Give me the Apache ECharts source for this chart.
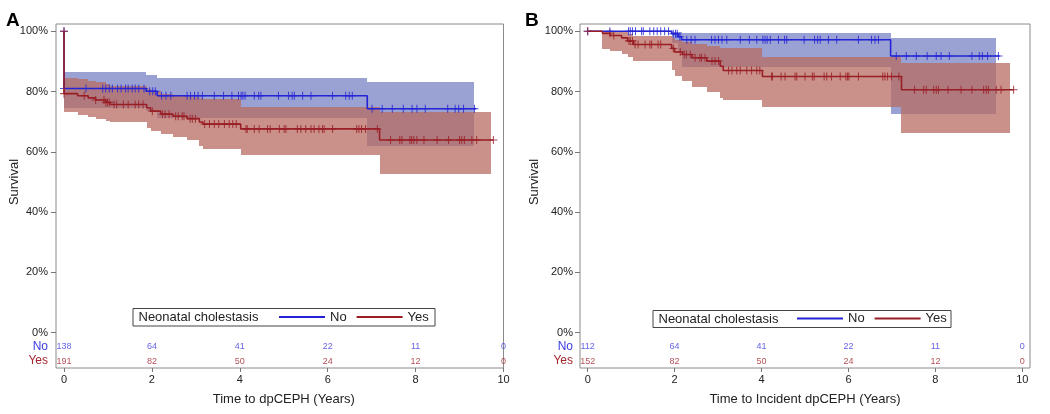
<!DOCTYPE html>
<html>
<head>
<meta charset="utf-8">
<script src="https://cdn.jsdelivr.net/npm/echarts@6/dist/echarts.min.js"></script>
<style>
	html,body{margin:0;padding:0;background:#fff;}
	#main{width:1050px;height:414px;}
</style>
</head>
<body>
<div id="main"></div>
<script>
	// ---- panel A : time to dpCEPH ----
	const aNoT  = [0, 0, 1.87, 2.12, 6.90];
	const aNoS  = [100, 81.0, 80.1, 78.6, 74.3];
	const aNoLo = [100, 74.5, 73.5, 71.3, 62.1];
	const aNoHi = [100, 86.5, 85.4, 84.6, 83.0];
	const aNoEnd = 9.38, aNoBandEnd = 9.32;
	const aNoCens = [0, 0.50, 0.88, 0.95, 1.03, 1.10, 1.22, 1.30, 1.40, 1.46, 1.55, 1.62, 1.70, 1.82, 1.95, 2.02, 2.08,
		2.22, 2.32, 2.43, 2.80, 2.88, 2.97, 3.05, 3.15, 3.42, 3.63, 3.82, 3.97, 4.03, 4.07, 4.12, 4.33, 4.43, 4.48,
		4.88, 5.11, 5.19, 5.24, 5.43, 5.62, 6.11, 6.41, 6.49, 6.56, 7.01, 7.24, 7.47, 7.72, 7.92, 8.03, 8.22, 8.73,
		8.90, 8.98, 9.09, 9.34];

	const aYesT  = [0, 0, 0.31, 0.55, 0.72, 0.95, 1.05, 1.88, 1.97, 2.20, 2.48, 2.80, 3.08, 3.16, 4.02, 7.18];
	const aYesS  = [100, 79.3, 78.6, 77.9, 77.2, 76.4, 75.7, 74.6, 73.5, 72.5, 71.8, 71.0, 69.9, 69.2, 67.6, 63.9];
	const aYesLo = [100, 73.2, 72.2, 71.5, 70.9, 70.3, 69.8, 68.0, 67.0, 65.8, 64.9, 63.8, 62.0, 61.0, 58.9, 52.8];
	const aYesHi = [100, 84.5, 84.0, 83.5, 83.0, 82.5, 81.9, 81.0, 80.2, 79.2, 78.7, 78.3, 78.0, 77.6, 75.0, 73.2];
	const aYesEnd = 9.77, aYesBandEnd = 9.72;
	const aYesCens = [0, 0.46, 0.72, 0.91, 0.95, 0.99, 1.03, 1.14, 1.20, 1.35, 1.46, 1.62, 1.70, 1.80, 2.01, 2.24,
		2.30, 2.39, 2.54, 2.60, 2.69, 2.73, 2.87, 2.92, 2.99, 3.20, 3.31, 3.42, 3.52, 3.65, 3.76, 3.84, 3.92, 4.14,
		4.17, 4.33, 4.44, 4.63, 4.69, 4.90, 5.01, 5.05, 5.31, 5.39, 5.50, 5.62, 5.69, 5.80, 5.88, 5.92, 6.11, 6.66,
		6.71, 6.77, 6.86, 7.13, 7.43, 7.64, 7.69, 7.87, 7.91, 7.96, 8.03, 8.19, 8.49, 8.75, 9.00, 9.05, 9.11, 9.28,
		9.39, 9.77];

	// ---- panel B : time to incident dpCEPH ----
	const bNoT  = [0, 1.93, 2.08, 2.16, 6.97];
	const bNoS  = [100, 99.2, 98.2, 97.2, 91.8];
	const bNoLo = [100, 96.0, 93.0, 88.3, 72.4];
	const bNoHi = [100, 99.9, 99.6, 99.4, 97.8];
	const bNoEnd = 9.48, bNoBandEnd = 9.40;
	const bNoCens = [0.51, 0.94, 0.98, 1.03, 1.10, 1.24, 1.28, 1.43, 1.52, 1.60, 1.68, 1.77, 1.86, 1.97, 2.02, 2.06,
		2.12, 2.28, 2.38, 2.47, 2.85, 2.93, 3.01, 3.09, 3.20, 3.51, 3.72, 3.89, 4.03, 4.08, 4.13, 4.20, 4.39, 4.53,
		4.58, 4.98, 5.22, 5.29, 5.35, 5.54, 5.73, 6.23, 6.53, 6.61, 6.69, 7.10, 7.33, 7.56, 7.81, 8.02, 8.13, 8.32,
		8.84, 9.01, 9.08, 9.20, 9.45];

	const bYesT  = [0, 0.34, 0.52, 0.78, 0.92, 1.05, 1.93, 2.00, 2.18, 2.40, 2.74, 3.05, 3.12, 4.02, 7.22];
	const bYesS  = [100, 99.3, 98.6, 97.8, 96.8, 95.6, 94.3, 93.1, 92.3, 91.2, 90.1, 88.4, 87.0, 85.0, 80.6];
	const bYesLo = [100, 94.1, 93.3, 92.5, 91.3, 90.0, 87.2, 85.0, 83.6, 81.5, 79.7, 77.8, 77.2, 75.0, 66.2];
	const bYesHi = [100, 100, 99.9, 99.6, 99.2, 98.5, 97.8, 97.0, 96.4, 95.8, 95.2, 94.6, 94.4, 91.4, 89.4];
	const bYesEnd = 9.80, bYesBandEnd = 9.72;
	const bYesCens = [0.51, 0.60, 0.95, 0.98, 1.03, 1.09, 1.16, 1.32, 1.43, 1.47, 1.62, 1.68, 1.97, 2.13, 2.22, 2.27,
		2.36, 2.47, 2.58, 2.62, 2.70, 2.86, 2.93, 3.01, 3.24, 3.32, 3.43, 3.51, 3.66, 3.77, 3.89, 3.96, 4.23, 4.25,
		4.45, 4.54, 4.77, 4.81, 5.00, 5.17, 5.21, 5.44, 5.50, 5.61, 5.81, 5.94, 5.98, 6.01, 6.23, 6.79, 6.84, 6.90,
		6.99, 7.16, 7.52, 7.73, 7.79, 7.96, 8.02, 8.07, 8.29, 8.59, 8.84, 9.11, 9.17, 9.22, 9.40, 9.51, 9.80];

	// number at risk
	const riskTimes = [0, 2, 4, 6, 8, 10];
	const aRiskNo  = [138, 64, 41, 22, 11, 0];
	const aRiskYes = [191, 82, 50, 24, 12, 0];
	const bRiskNo  = [112, 64, 41, 22, 11, 0];
	const bRiskYes = [152, 82, 50, 24, 12, 0];

	const xTicks = [0, 2, 4, 6, 8, 10];
	const yTicks = [0, 20, 40, 60, 80, 100];

	const BLUE = '#2424d6', RED = '#9a1e26';
	const BLUE_TXT = '#3b3be0', RED_TXT = '#a3262e';
	const BLUE_BAND = 'rgba(120,130,196,0.75)', RED_BAND = 'rgba(183,108,97,0.75)';
	const ROW_NO = -4.7, ROW_YES = -9.4;
	const FONT = '"Liberation Sans", Arial, sans-serif';
	const PLUS = 'path://M4.35,0h1.3v4.35h4.35v1.3h-4.35v4.35h-1.3v-4.35h-4.35v-1.3h4.35z';

	function survAt(ts, ss, t){
		let v = ss[0];
		for (let i = 0; i < ts.length; i++){ if (ts[i] <= t) v = ss[i]; }
		return v;
	}
	function stepData(ts, ss, end){
		const d = ts.map((t, i) => [t, ss[i]]);
		d.push([end, ss[ss.length - 1]]);
		return d;
	}
	function bandData(ts, lo, hi, end){
		const d = [];
		for (let i = 0; i < ts.length; i++){
			const t1 = i < ts.length - 1 ? ts[i + 1] : end;
			if (hi[i] > lo[i] && t1 > ts[i]) d.push([ts[i], t1, lo[i], hi[i]]);
		}
		return d;
	}
	function censData(ts, ss, cs){
		return [[ts[0], ss[0]]].concat(cs.map(t => [t, survAt(ts, ss, t)]));
	}
	function bandRender(color){
		return function(params, api){
			const a = api.coord([api.value(0), api.value(3)]);
			const b = api.coord([api.value(1), api.value(2)]);
			const x0 = Math.round(a[0]), x1 = Math.round(b[0]);
			const y0 = Math.round(a[1]), y1 = Math.round(b[1]);
			return { type:'rect', shape:{ x:x0, y:y0, width:x1 - x0, height:y1 - y0 }, style:{ fill:color } };
		};
	}

	function panelSeries(idx, g){
		const base = { xAxisIndex:idx, yAxisIndex:idx, silent:true };
		return [
			Object.assign({ type:'custom', name:'No band', renderItem:bandRender(BLUE_BAND), encode:{ x:[0,1], y:[2,3] },
				data:bandData(g.noT, g.noLo, g.noHi, g.noBandEnd) }, base),
			Object.assign({ type:'custom', name:'Yes band', renderItem:bandRender(RED_BAND), encode:{ x:[0,1], y:[2,3] },
				data:bandData(g.yesT, g.yesLo, g.yesHi, g.yesBandEnd) }, base),
			Object.assign({ type:'line', name:'No', step:'end', showSymbol:false, symbol:'none',
				itemStyle:{ color:BLUE }, lineStyle:{ color:BLUE, width:1.6 },
				data:stepData(g.noT, g.noS, g.noEnd) }, base),
			Object.assign({ type:'line', name:'Yes', step:'end', showSymbol:false, symbol:'none',
				itemStyle:{ color:RED }, lineStyle:{ color:RED, width:1.6 },
				data:stepData(g.yesT, g.yesS, g.yesEnd) }, base),
			Object.assign({ type:'scatter', name:'No censored', symbol:PLUS, symbolSize:8,
				itemStyle:{ color:BLUE }, data:censData(g.noT, g.noS, g.noCens) }, base),
			Object.assign({ type:'scatter', name:'Yes censored', symbol:PLUS, symbolSize:8,
				itemStyle:{ color:RED }, data:censData(g.yesT, g.yesS, g.yesCens) }, base),
			Object.assign({ type:'scatter', name:'No at risk', symbolSize:0,
				label:{ show:true, position:'inside', formatter:p => p.value[2], color:BLUE_TXT, fontSize:9, fontFamily:FONT },
				data:riskTimes.map((t, i) => [t, ROW_NO, g.riskNo[i]]) }, base),
			Object.assign({ type:'scatter', name:'Yes at risk', symbolSize:0,
				label:{ show:true, position:'inside', formatter:p => p.value[2], color:RED_TXT, fontSize:9, fontFamily:FONT },
				data:riskTimes.map((t, i) => [t, ROW_YES, g.riskYes[i]]) }, base)
		];
	}

	function xAxis(idx, min, max, name, pad){
		return {
			type:'value', gridIndex:idx, min:min, max:max, position:'bottom',
			axisLine:{ show:false, onZero:false },
			axisTick:{ show:true, length:4, customValues:xTicks, lineStyle:{ color:'#777' } },
			axisLabel:{ customValues:xTicks, margin:6, fontSize:11, color:'#222', fontFamily:FONT },
			splitLine:{ show:false },
			name:name, nameLocation:'middle', nameGap:25,
			nameTextStyle:{ fontSize:13, color:'#222', fontFamily:FONT, padding:pad }
		};
	}
	function yAxis(idx, margin){
		return {
			type:'value', gridIndex:idx, min:-11.7, max:102.4, position:'left',
			axisLine:{ show:false, onZero:false },
			axisTick:{ show:true, length:5, customValues:yTicks, lineStyle:{ color:'#777' } },
			axisLabel:{
				customValues:[ROW_YES, ROW_NO].concat(yTicks), margin:margin, fontSize:11, color:'#222', fontFamily:FONT,
				formatter:v => v < -7 ? '{y|Yes}' : (v < 0 ? '{n|No}' : v + '%'),
				rich:{ n:{ color:BLUE_TXT, fontSize:12, fontFamily:FONT }, y:{ color:RED_TXT, fontSize:12, fontFamily:FONT } }
			},
			splitLine:{ show:false }
		};
	}
	function legendBox(x, y, w, h){
		return [
			{ type:'rect', z:5, shape:{ x:x, y:y, width:w, height:h }, style:{ fill:'#fff', stroke:'#444', lineWidth:1 } },
			{ type:'text', z:6, x:x + 5.5, y:y + h / 2, style:{ text:'Neonatal cholestasis', fontSize:13, fontFamily:FONT,
				fill:'#222', verticalAlign:'middle' } }
		];
	}

	const chart = echarts.init(document.getElementById('main'), null, { renderer:'canvas' });
	chart.setOption({
		animation:false,
		textStyle:{ fontFamily:FONT },
		grid:[
			{ left:56, top:24, width:447.5, height:344, show:true, borderColor:'#8a8a8a', borderWidth:1,
				backgroundColor:'transparent', outerBoundsMode:'none', containLabel:false },
			{ left:580, top:24, width:450, height:344, show:true, borderColor:'#8a8a8a', borderWidth:1,
				backgroundColor:'transparent', outerBoundsMode:'none', containLabel:false }
		],
		xAxis:[
			xAxis(0, -0.182, 10, 'Time to dpCEPH (Years)', [0, 0, 0, 8]),
			xAxis(1, -0.177, 10.177, 'Time to Incident dpCEPH (Years)', 0)
		],
		yAxis:[ yAxis(0, 8), yAxis(1, 7) ],
		legend:[
			{ left:279, top:310.5, data:['No','Yes'], icon:'rect', itemWidth:46, itemHeight:2, itemGap:10, padding:0, z:10,
				selectedMode:false, textStyle:{ fontSize:13, color:'#222', fontFamily:FONT } },
			{ left:797, top:312, data:['No','Yes'], icon:'rect', itemWidth:46, itemHeight:2, itemGap:10, padding:0, z:10,
				selectedMode:false, textStyle:{ fontSize:13, color:'#222', fontFamily:FONT } }
		],
		graphic:[
			{ type:'text', x:6, y:11, style:{ text:'A', fontSize:19, fontWeight:'bold', fontFamily:FONT, fill:'#000' } },
			{ type:'text', x:525, y:11, style:{ text:'B', fontSize:19, fontWeight:'bold', fontFamily:FONT, fill:'#000' } },
			{ type:'text', x:14, y:182, rotation:Math.PI / 2, style:{ text:'Survival', fontSize:13, fontFamily:FONT, fill:'#222',
				align:'center', verticalAlign:'middle' } },
			{ type:'text', x:534, y:182, rotation:Math.PI / 2, style:{ text:'Survival', fontSize:13, fontFamily:FONT, fill:'#222',
				align:'center', verticalAlign:'middle' } }
		].concat(legendBox(133, 308.5, 302, 17.5), legendBox(653, 310.5, 298, 17)),
		series:panelSeries(0, {
			noT:aNoT, noS:aNoS, noLo:aNoLo, noHi:aNoHi, noEnd:aNoEnd, noBandEnd:aNoBandEnd, noCens:aNoCens,
			yesT:aYesT, yesS:aYesS, yesLo:aYesLo, yesHi:aYesHi, yesEnd:aYesEnd, yesBandEnd:aYesBandEnd, yesCens:aYesCens,
			riskNo:aRiskNo, riskYes:aRiskYes
		}).concat(panelSeries(1, {
			noT:bNoT, noS:bNoS, noLo:bNoLo, noHi:bNoHi, noEnd:bNoEnd, noBandEnd:bNoBandEnd, noCens:bNoCens,
			yesT:bYesT, yesS:bYesS, yesLo:bYesLo, yesHi:bYesHi, yesEnd:bYesEnd, yesBandEnd:bYesBandEnd, yesCens:bYesCens,
			riskNo:bRiskNo, riskYes:bRiskYes
		}))
	});
	window.onresize = function(){ chart.resize(); };
</script>
</body>
</html>
